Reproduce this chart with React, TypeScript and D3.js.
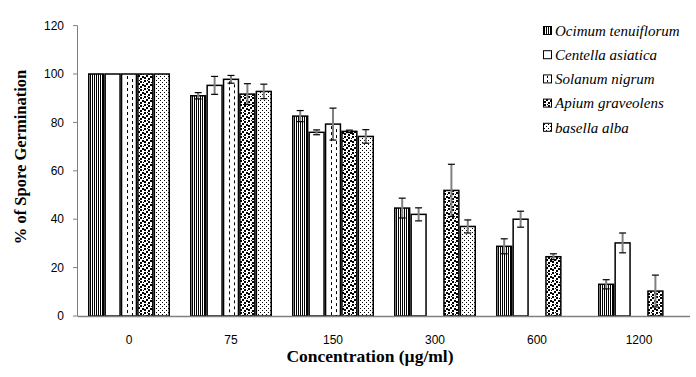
import React from "react";
import * as d3 from "d3";

const categories = ["0", "75", "150", "300", "600", "1200"];
const seriesNames = [
  "Ocimum tenuiflorum",
  "Centella asiatica",
  "Solanum nigrum",
  "Apium graveolens",
  "basella alba",
];
const ocimum = [100, 91, 82.6, 44.6, 28.8, 13.1];
const ocimumErr = [0, 1.3, 2.3, 4.1, 3.1, 1.9];
const centella = [100, 95.3, 75.9, 42, 40, 30.2];
const centellaErr = [0, 3.7, 1, 2.7, 3.3, 4.1];
const solanum = [100, 97.8, 79.3, 0, 0, 0];
const solanumErr = [0, 1.6, 6.6, 0, 0, 0];
const apium = [100, 91.7, 76.3, 51.9, 24.5, 10.3];
const apiumErr = [0, 4.3, 0.5, 10.8, 1.2, 6.6];
const basella = [100, 92.8, 74.2, 37, 0, 0];
const basellaErr = [0, 3, 2.8, 2.7, 0, 0];
const yTicks = [0, 20, 40, 60, 80, 100, 120];

const seriesValues = [ocimum, centella, solanum, apium, basella];
const seriesErrs = [ocimumErr, centellaErr, solanumErr, apiumErr, basellaErr];
const fills = ["url(#pVlines)", "#fff", "#fff", "url(#pConfetti)", "url(#pDots)"];

export default function App() {
  const W = 696, H = 377;
  const x0 = d3.scaleBand<string>().domain(categories).range([78, 690]);
  const x1 = d3
    .scaleBand<number>()
    .domain(d3.range(seriesNames.length))
    .range([10, 92]);
  const y = d3.scaleLinear().domain([0, 120]).range([316, 25.6]);
  const serif = "'Liberation Serif', 'Times New Roman', serif";
  const sans = "'Liberation Sans', Arial, sans-serif";

  const bars: React.ReactNode[] = [];
  const errs: React.ReactNode[] = [];
  categories.forEach((c, ci) => {
    seriesValues.forEach((vals, si) => {
      const v = vals[ci];
      if (v <= 0) return;
      const bx = (x0(c) as number) + (x1(si) as number);
      const bw = x1.bandwidth();
      const top = y(v);
      const bottom = y(0);
      bars.push(
        <g key={`b${ci}-${si}`}>
          <rect
            x={bx + 0.75}
            y={top}
            width={bw - 1.5}
            height={bottom - top}
            fill={fills[si]}
            stroke="#000"
            strokeWidth={1.5}
          />
          {si === 2 && (
            <>
              <line
                x1={Math.round(bx + bw * 0.36) + 0.5}
                x2={Math.round(bx + bw * 0.36) + 0.5}
                y1={top + 2}
                y2={bottom}
                stroke="#000"
                strokeWidth={1}
                strokeDasharray="3,3"
              />
              <line
                x1={Math.round(bx + bw * 0.68) + 0.5}
                x2={Math.round(bx + bw * 0.68) + 0.5}
                y1={top + 5}
                y2={bottom}
                stroke="#000"
                strokeWidth={1}
                strokeDasharray="3,3"
              />
            </>
          )}
        </g>
      );
      const e = seriesErrs[si][ci];
      if (e > 0) {
        const cx = bx + bw / 2;
        errs.push(
          <g key={`e${ci}-${si}`}>
            <line x1={cx} x2={cx} y1={y(v + e)} y2={y(v - e)} stroke="#808080" strokeWidth={2} />
            <line x1={cx - 3.5} x2={cx + 3.5} y1={y(v + e)} y2={y(v + e)} stroke="#000" strokeWidth={1.2} />
            <line x1={cx - 3.5} x2={cx + 3.5} y1={y(v - e)} y2={y(v - e)} stroke="#000" strokeWidth={1.2} />
          </g>
        );
      }
    });
  });

  return (
    <svg width={W} height={H} style={{ position: "absolute", left: 0, top: 0 }}>
      <defs>
        <pattern id="pVlines" patternUnits="userSpaceOnUse" width={2} height={2}>
          <rect width={2} height={2} fill="#fff" />
          <rect x={0} y={0} width={1} height={2} fill="#000" />
        </pattern>
        <pattern id="pConfetti" patternUnits="userSpaceOnUse" width={8} height={8}>
          <rect width={8} height={8} fill="#fff" />
          <rect x={0} y={0} width={2} height={2} fill="#000" />
          <rect x={4} y={1} width={2} height={2} fill="#000" />
          <rect x={2} y={3} width={2} height={2} fill="#000" />
          <rect x={6} y={4} width={2} height={2} fill="#000" />
          <rect x={0} y={5} width={2} height={2} fill="#000" />
          <rect x={4} y={6} width={2} height={2} fill="#000" />
          <rect x={3} y={0} width={1} height={1} fill="#000" />
          <rect x={7} y={2} width={1} height={1} fill="#000" />
        </pattern>
        <pattern id="pDots" patternUnits="userSpaceOnUse" width={4} height={4}>
          <rect width={4} height={4} fill="#fff" />
          <rect x={0} y={0} width={1} height={1} fill="#000" />
          <rect x={2} y={2} width={1} height={1} fill="#000" />
        </pattern>
        <pattern id="pLegDash" patternUnits="userSpaceOnUse" width={8} height={4}>
          <rect width={8} height={4} fill="#fff" />
          <rect x={3} y={0} width={1} height={2} fill="#000" />
        </pattern>
      </defs>
      <rect width={W} height={H} fill="#fff" />

      {/* y axis */}
      <line x1={77.5} x2={77.5} y1={y(120)} y2={y(0)} stroke="#808080" strokeWidth={1} />
      {yTicks.map((t) => (
        <g key={`yt${t}`}>
          <line x1={73} x2={77.5} y1={y(t)} y2={y(t)} stroke="#808080" strokeWidth={1} />
          <text x={64} y={y(t)} dy="0.35em" textAnchor="end" fontFamily={sans} fontSize={12} fill="#000">
            {t}
          </text>
        </g>
      ))}

      {bars}
      {errs}

      {/* x axis */}
      <line x1={77.5} x2={690} y1={316.5} y2={316.5} stroke="#808080" strokeWidth={1.5} />
      {categories.map((c) => (
        <text
          key={`xl${c}`}
          x={(x0(c) as number) + x0.bandwidth() / 2}
          y={344}
          textAnchor="middle"
          fontFamily={sans}
          fontSize={12}
          fill="#000"
        >
          {c}
        </text>
      ))}
      <text x={370} y={362} textAnchor="middle" fontFamily={serif} fontWeight="bold" fontSize={17.5} fill="#000">
        Concentration (µg/ml)
      </text>
      <text
        transform={`translate(26,157) rotate(-90)`}
        textAnchor="middle"
        fontFamily={serif}
        fontWeight="bold"
        fontSize={16.5}
        fill="#000"
      >
        % of Spore Germination
      </text>

      {/* legend */}
      {seriesNames.map((n, i) => {
        const cy = 30.5 + i * 24.2;
        return (
          <g key={`lg${i}`}>
            <rect
              x={543.5}
              y={cy - 4}
              width={8}
              height={8}
              fill={i === 2 ? "url(#pLegDash)" : fills[i]}
              stroke="#000"
              strokeWidth={1}
            />
            <text x={555} y={cy} dy="0.35em" fontFamily={serif} fontStyle="italic" fontSize={15} fill="#000">
              {n}
            </text>
          </g>
        );
      })}
    </svg>
  );
}
